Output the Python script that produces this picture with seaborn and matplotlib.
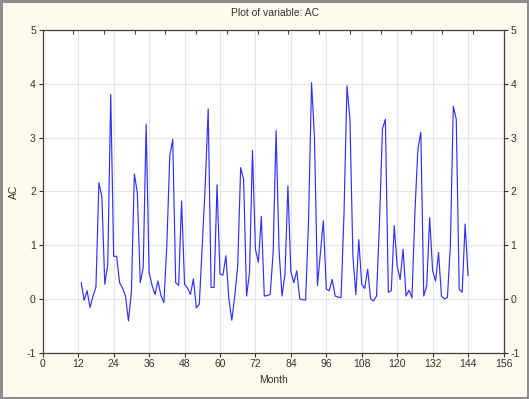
import numpy as np
import pandas as pd
import matplotlib
matplotlib.use("Agg")
import matplotlib.pyplot as plt
import seaborn as sns
from matplotlib.patches import Rectangle

months = list(range(13, 145))
ac_values = [
    0.30, -0.03, 0.15, -0.16, 0.05, 0.22, 2.16, 1.90, 0.27, 0.64, 3.80, 0.79,   # 13-24
    0.79, 0.30, 0.20, 0.05, -0.41, 0.12, 2.32, 1.98, 0.30, 0.58, 3.25, 0.49,    # 25-36
    0.25, 0.08, 0.33, 0.06, -0.07, 1.00, 2.66, 2.97, 0.30, 0.25, 1.82, 0.27,    # 37-48
    0.20, 0.08, 0.37, -0.17, -0.10, 1.00, 2.10, 3.53, 0.21, 0.21, 2.12, 0.46,   # 49-60
    0.44, 0.80, 0.00, -0.40, 0.05, 0.61, 2.44, 2.22, 0.05, 0.49, 2.76, 0.92,    # 61-72
    0.68, 1.53, 0.05, 0.06, 0.08, 0.86, 3.13, 0.90, 0.05, 0.45, 2.10, 0.50,     # 73-84
    0.30, 0.52, 0.00, -0.02, -0.02, 1.48, 4.02, 3.00, 0.25, 0.86, 1.45, 0.18,   # 85-96
    0.15, 0.36, 0.05, 0.03, 0.02, 1.60, 3.96, 3.34, 0.80, 0.08, 1.10, 0.27,     # 97-108
    0.19, 0.55, 0.00, -0.04, 0.05, 1.40, 3.16, 3.34, 0.12, 0.15, 1.36, 0.61,    # 109-120
    0.36, 0.92, 0.05, 0.16, 0.02, 1.60, 2.78, 3.10, 0.05, 0.24, 1.51, 0.52,     # 121-132
    0.33, 0.86, 0.05, 0.00, 0.02, 0.98, 3.58, 3.34, 0.18, 0.12, 1.39, 0.43,     # 133-144
]
x_ticks = list(range(0, 157, 12))
y_ticks = [-1, 0, 1, 2, 3, 4, 5]
title = "Plot of variable: AC"
x_label = "Month"
y_label = "AC"

df = pd.DataFrame({"Month": months, "AC": ac_values})

sns.set_style("white")
plt.rcParams["font.family"] = ["Liberation Sans", "DejaVu Sans"]
plt.rcParams["axes.unicode_minus"] = False

bg = "#FFF9EE"
txt = "#333333"
fig = plt.figure(figsize=(5.29, 3.99), dpi=100, facecolor=bg)
ax = fig.add_axes([0.0809, 0.1165, 0.9518 - 0.0809, 0.9248 - 0.1165])
ax.set_facecolor("white")

sns.lineplot(data=df, x="Month", y="AC", ax=ax, color="#3030ff", linewidth=0.85)

ax.set_xlim(0, 156)
ax.set_ylim(-1, 5)
ax.set_xticks(x_ticks)
ax.set_yticks(y_ticks)
ax.grid(True, color="#e6e6e6", linewidth=0.8)
ax.set_axisbelow(True)
for s in ax.spines.values():
    s.set_color("#404040")
    s.set_linewidth(0.9)
    s.set_visible(True)

ax.tick_params(axis="both", which="major", labelsize=7.5, colors=txt,
               direction="out", length=3, width=0.8, pad=2)
ax.tick_params(axis="y", right=True, labelright=True, left=True, labelleft=True)
ax.tick_params(axis="x", bottom=True)

# top axis with its own (unlabelled) tick marks
top_ticks = np.linspace(10.33, 145.6, 14)
ax2 = ax.twiny()
ax2.set_xlim(0, 156)
ax2.set_xticks(top_ticks)
ax2.set_xticklabels([])
ax2.tick_params(axis="x", direction="in", length=3, width=0.8, colors="#404040")
for s in ax2.spines.values():
    s.set_visible(False)

ax.set_xlabel(x_label, fontsize=7.5, color=txt, labelpad=4)
ax.set_ylabel("")
fig.text(0.026, 0.52, y_label, rotation=90, ha="center", va="center",
         fontsize=7.5, color=txt)
fig.text(0.52, 0.968, title, ha="center", va="center", fontsize=7.5, color=txt)

# window border
fig.patches.append(Rectangle((0.001, 0.002), 0.997, 0.995, transform=fig.transFigure,
                             fill=False, edgecolor="#8c8c8c", linewidth=2.2))

fig.savefig("out.png", dpi=100, facecolor=bg)
